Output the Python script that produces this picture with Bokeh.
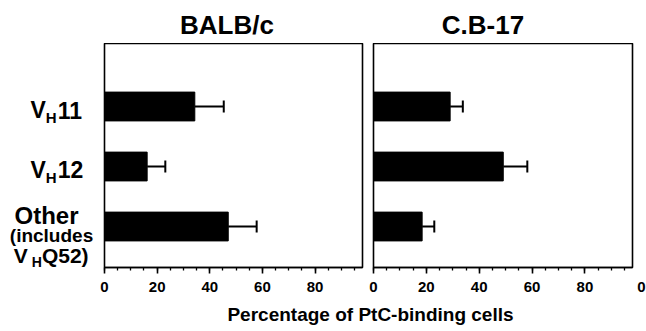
from bokeh.plotting import figure
from bokeh.models import Range1d, Whisker, ColumnDataSource, SingleIntervalTicker, TeeHead, FixedTicker
from bokeh.core.properties import value
from bokeh.layouts import row, column
from bokeh.embed import file_html
from bokeh.resources import INLINE

# ---- data ----
categories = ["VH11", "VH12", "Other"]
cat_pos = [3, 2, 1]
balbc_mean = [34.3, 16.2, 47.0]
balbc_err = [11.0, 6.9, 10.8]
cb17_mean = [29.0, 49.1, 18.4]
cb17_err = [4.8, 9.1, 4.6]
panel_titles = ["BALB/c", "C.B-17"]
x_title = "Percentage of PtC-binding cells"

FONT = "Liberation Sans"
Y0, Y1 = 0.317, 4.05
X0, X1 = 0, 98
FRAME_H = 224
BOTTOM = 35
TOP_H = 43
ROW_H = FRAME_H + BOTTOM
PX_PER_Y = FRAME_H / (Y1 - Y0)
MID = 0.346  # em-box middle above the baseline
# Arial-Bold advance widths (em) for composing sub-scripted labels
ADV = {"V": 0.667, "H": 0.722, "1": 0.556, "2": 0.556, "Q": 0.778, "5": 0.556, ")": 0.333}


def text_w(s, size):
    return sum(ADV.get(c, 0.556) for c in s) * size


def blank(width, height, xr, yr, x_axis_location=None, **kw):
    f = figure(width=width, height=height, x_range=Range1d(*xr), y_range=Range1d(*yr),
               output_backend="svg", toolbar_location=None, title=None,
               x_axis_location=x_axis_location, y_axis_location=None, min_border=0, **kw)
    f.grid.visible = False
    f.outline_line_color = None
    f.background_fill_color = "white"
    f.border_fill_color = "white"
    return f


def txt(f, x, y, s, size, align="left"):
    f.text(x=[x], y=[y], text=[s], text_font=value(FONT), text_font_style="bold",
           text_font_size=value(f"{size}px"), text_align=align,
           text_baseline="middle", text_color="black")


def style_xaxis(ax):
    ax.axis_line_color = "black"
    ax.axis_line_width = 1.6
    ax.major_tick_in = 0
    ax.major_tick_out = 6
    ax.major_tick_line_width = 1.6
    ax.minor_tick_in = 0
    ax.minor_tick_out = 3
    ax.minor_tick_line_width = 1.3
    ax.major_label_text_font = FONT
    ax.major_label_text_font_style = "bold"
    ax.major_label_text_font_size = "15px"
    ax.major_label_text_color = "black"
    ax.major_label_standoff = 8


def make_panel(mean, err, left_border, right_border, frame_w):
    p = figure(width=left_border + frame_w + right_border, height=ROW_H,
               x_range=Range1d(X0, X1), y_range=Range1d(Y0, Y1),
               output_backend="svg", toolbar_location=None, title=None,
               y_axis_location=None,
               min_border_left=left_border, min_border_right=right_border,
               min_border_top=0, min_border_bottom=BOTTOM)
    p.grid.visible = False
    p.background_fill_color = "white"
    p.border_fill_color = "white"
    p.outline_line_color = "black"
    p.outline_line_width = 1.6

    upper = [m + e for m, e in zip(mean, err)]
    src = ColumnDataSource(dict(y=cat_pos, m=mean, up=upper))
    p.hbar(y="y", left=0, right="m", height=0.48, source=src,
           fill_color="black", line_color="black")
    w = Whisker(base="y", lower="m", upper="up", dimension="width", source=src,
                line_color="black", line_width=2,
                lower_head=None,
                upper_head=TeeHead(size=12, line_color="black", line_width=2))
    p.add_layout(w)

    ax = p.xaxis[0]
    ax.ticker = SingleIntervalTicker(interval=20, num_minor_ticks=4)
    style_xaxis(ax)
    return p


LABEL_W = 96
p1 = make_panel(balbc_mean, balbc_err, 8, 5, 258)
p2 = make_panel(cb17_mean, cb17_err, 6, 3, 259)
RIGHT_W = 646 - LABEL_W - p1.width - p2.width

# ---- category labels (left strip sharing the panels' vertical scale) ----
pL = blank(LABEL_W, ROW_H, (0, LABEL_W), (Y0, Y1), min_border_bottom=BOTTOM)


def place(cat, dy, size):
    """data y for a text whose baseline sits dy px above the category centre"""
    return cat + (dy + MID * size) / PX_PER_Y


def sub_label(cat, parts, x_left):
    """parts: (text, size, baseline offset in px above category centre, gap before)"""
    x = x_left
    for s, size, dy, gap in parts:
        x += gap
        txt(pL, x, place(cat, dy, size), s, size)
        x += text_w(s, size)


sub_label(cat_pos[0], [("V", 23, -11.8, 0), ("H", 15, -16.3, 0), ("11", 23, -11.8, 1)], 30)
sub_label(cat_pos[1], [("V", 23, -11.0, 0), ("H", 15, -15.7, 0), ("12", 23, -11.0, 1)], 30)
txt(pL, 46, place(cat_pos[2], 2.7, 24), "Other", 24, "center")
txt(pL, 51, place(cat_pos[2], -15.2, 19), "(includes", 19, "center")
sub_label(cat_pos[2], [("V", 21, -36.2, 0), ("H", 14, -40.2, 4), ("Q52)", 21, -36.2, 0)], 13.3)

# ---- right strip: remnant of the cropped "100" tick label ----
pR = blank(RIGHT_W, ROW_H, (0, RIGHT_W), (Y0, Y1), x_axis_location="below",
           min_border_bottom=BOTTOM)
axR = pR.xaxis[0]
axR.ticker = FixedTicker(ticks=[6])
axR.major_label_overrides = {6: "0"}
style_xaxis(axR)
axR.axis_line_color = None
axR.major_tick_line_color = None
axR.minor_tick_line_color = None

# ---- panel titles ----
pT = blank(646, TOP_H, (0, 646), (0, TOP_H))
txt(pT, 226.5, 9.7 + MID * 26, panel_titles[0], 26, "center")
txt(pT, 482.5, 9.7 + MID * 26, panel_titles[1], 26, "center")

# ---- shared x-axis title ----
B_H = 331 - TOP_H - ROW_H
pB = blank(646, B_H, (0, 646), (0, B_H))
txt(pB, 370, 10.3 + MID * 19, x_title, 19, "center")

layout = column(pT, row(pL, p1, p2, pR), pB)
open("out.html", "w").write(file_html(layout, INLINE))
